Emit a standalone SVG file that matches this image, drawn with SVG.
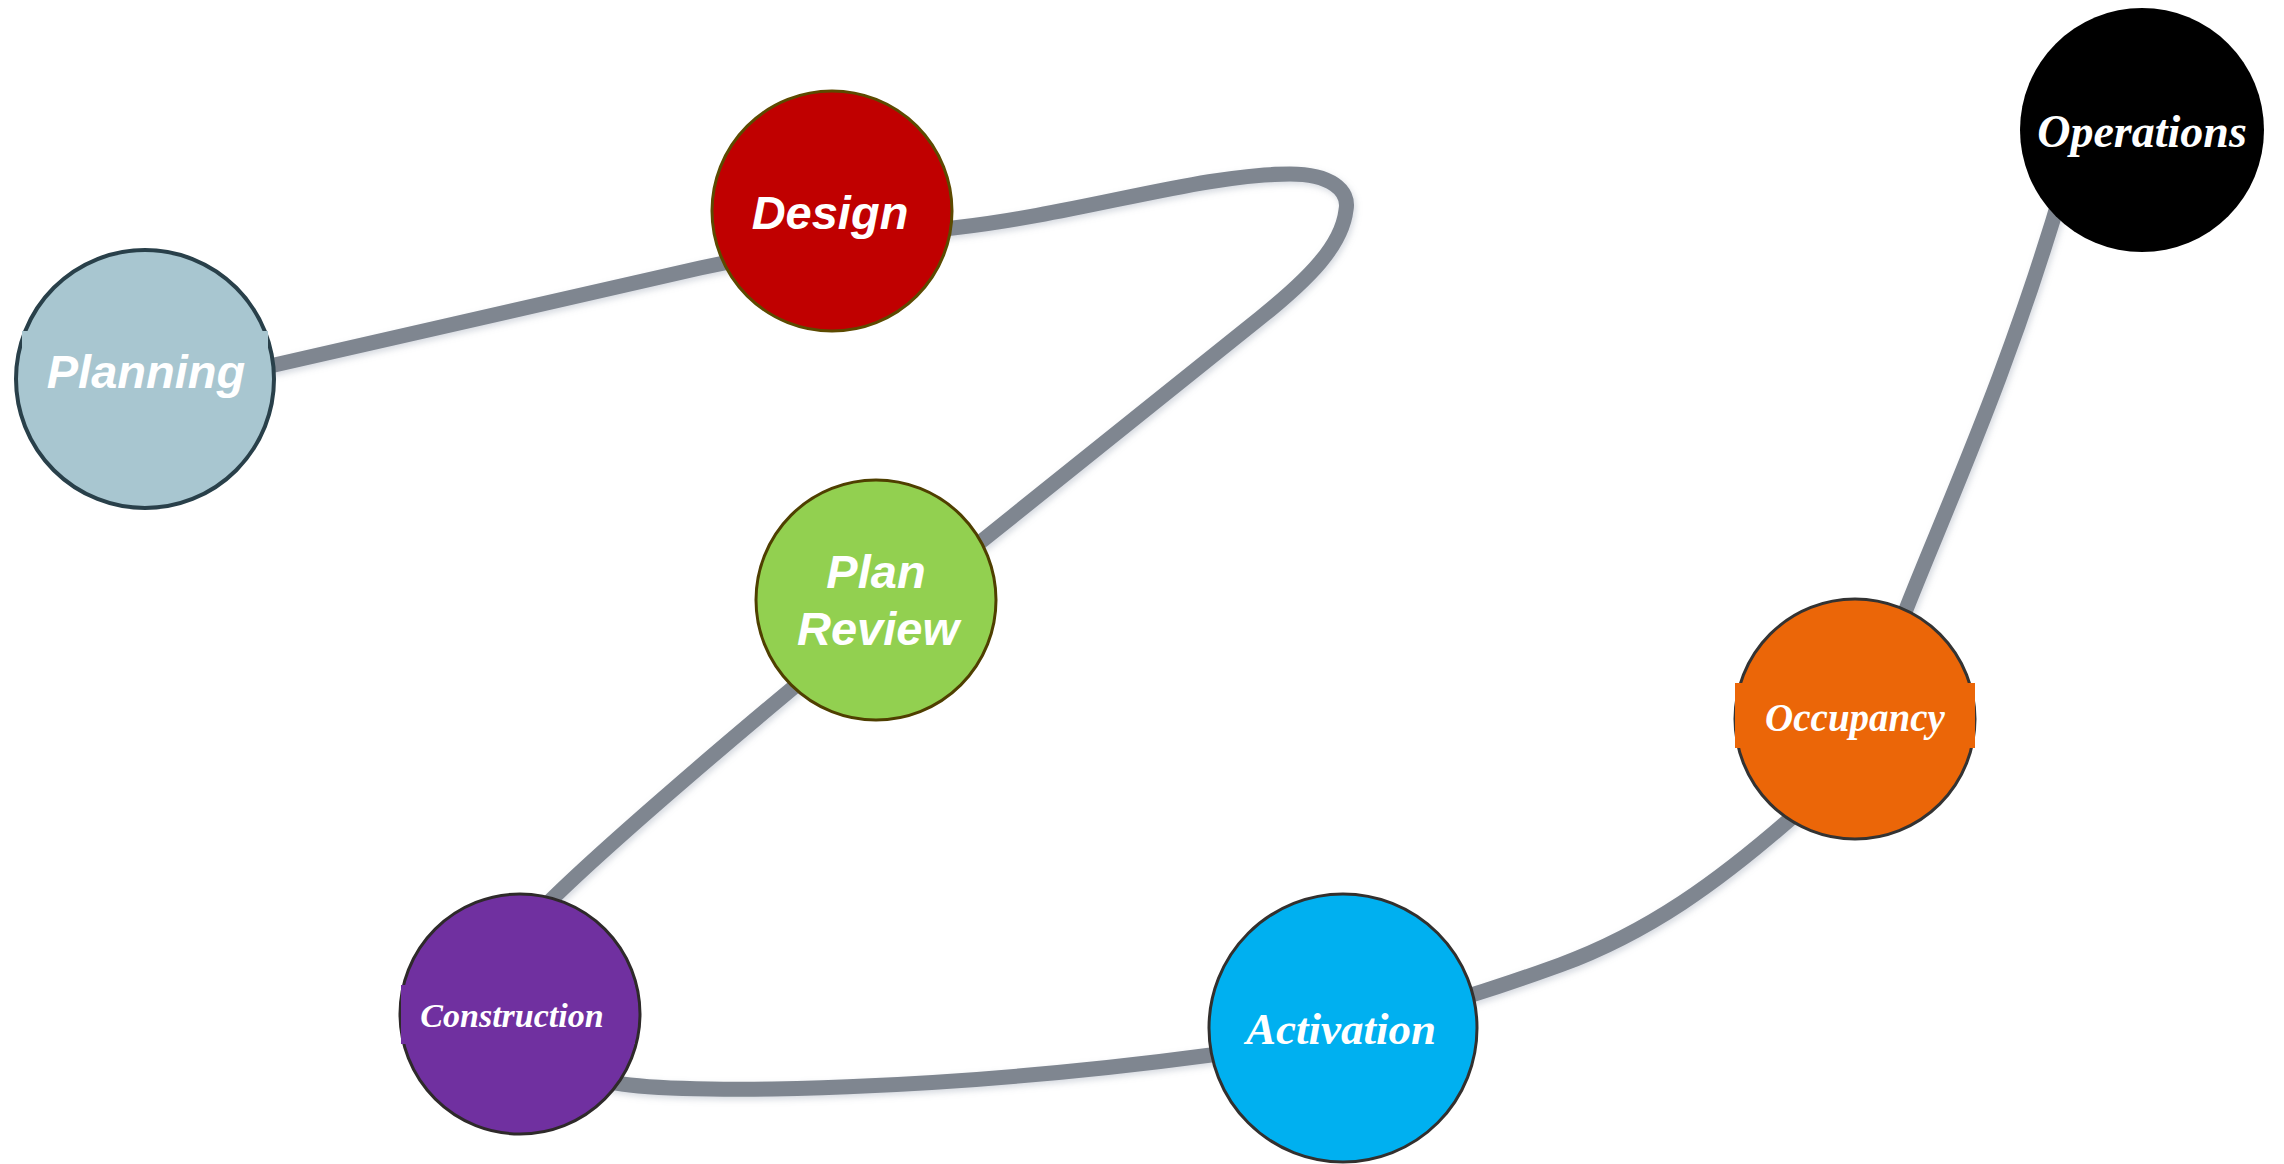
<svg xmlns="http://www.w3.org/2000/svg" width="2284" height="1164" viewBox="0 0 2284 1164">
<style>
.sans{font-family:"Liberation Sans",Arial,sans-serif;font-weight:bold;font-style:italic;fill:#fff;text-anchor:middle}
.serif{font-family:"Liberation Serif","Times New Roman",serif;font-weight:bold;font-style:italic;fill:#fff;text-anchor:middle}
.conn{fill:none;stroke:#7F8690;stroke-width:15;stroke-linecap:round;stroke-linejoin:round}
</style>
<defs>
<filter id="sh" x="-10%" y="-10%" width="120%" height="120%">
<feDropShadow dx="2" dy="3" stdDeviation="3" flood-color="#8A96A8" flood-opacity="0.35"/>
</filter>
</defs>
<rect width="2284" height="1164" fill="#fff"/>
<g id="connectors">
<path class="conn" filter="url(#sh)" d="M 200,382 L 700,268 C 800,246 880,236 953,228 C 1080,214 1200,174 1290,174 C 1330,174 1350,190 1346,210 C 1342,245 1310,278 1260,318 L 983,540 L 794,687 C 740,732 600,850 541,910 C 480,975 500,1070 622,1084 C 700,1095 950,1090 1211,1055 C 1330,1039 1450,1005 1560,965 C 1650,932 1720,880 1789,820 C 1830,785 1885,663 1905,612 C 1945,510 2010,370 2065,180"/>
</g>
<g id="planning">
<circle cx="145" cy="379" r="129" fill="#A8C6D0" stroke="#29404A" stroke-width="4"/>
<rect x="22" y="331" width="246" height="62" fill="#A8C6D0"/>
<text class="sans" x="146" y="388" font-size="47">Planning</text>
</g>
<g id="design">
<circle cx="832" cy="211" r="120" fill="#C00000" stroke="#5C4A00" stroke-width="3"/>
<text class="sans" x="830" y="229" font-size="47">Design</text>
</g>
<g id="plan-review">
<circle cx="876" cy="600" r="120" fill="#92D050" stroke="#4F3F00" stroke-width="3"/>
<text class="sans" x="876" y="588" font-size="47">Plan</text>
<text class="sans" x="878" y="645" font-size="47">Review</text>
</g>
<g id="construction">
<circle cx="520" cy="1014" r="120" fill="#7030A0" stroke="#2E2A2A" stroke-width="3"/>
<rect x="401" y="985" width="234" height="59" fill="#7030A0"/>
<text class="serif" x="512" y="1027" font-size="34">Construction</text>
</g>
<g id="activation">
<circle cx="1343" cy="1028" r="134" fill="#00B0F0" stroke="#33302E" stroke-width="3"/>
<text class="serif" x="1341" y="1044" font-size="45">Activation</text>
</g>
<g id="occupancy">
<circle cx="1855" cy="719" r="120" fill="#EB6608" stroke="#333" stroke-width="3"/>
<rect x="1735" y="683" width="240" height="65" fill="#EB6608"/>
<text class="serif" x="1855" y="731" font-size="39">Occupancy</text>
</g>
<g id="operations">
<circle cx="2142" cy="130" r="122" fill="#000"/>
<text class="serif" x="2142" y="147" font-size="46">Operations</text>
</g>
</svg>
